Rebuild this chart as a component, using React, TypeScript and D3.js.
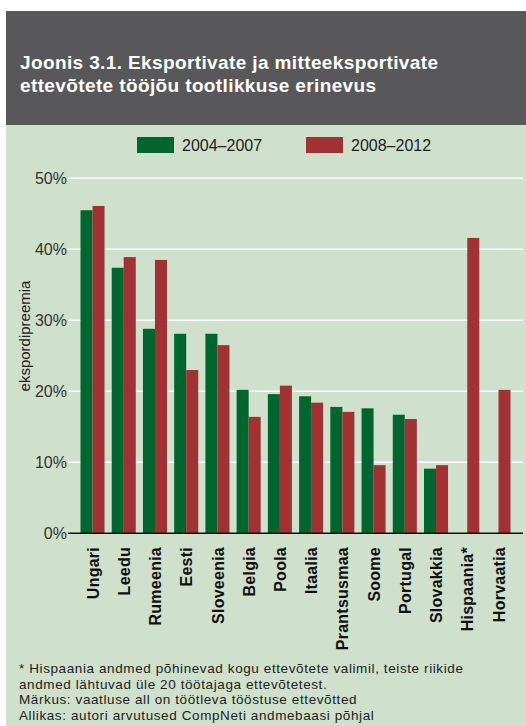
import * as d3 from 'd3';

const countries = [
  'Ungari', 'Leedu', 'Rumeenia', 'Eesti', 'Sloveenia', 'Belgia', 'Poola',
  'Itaalia', 'Prantsusmaa', 'Soome', 'Portugal', 'Slovakkia', 'Hispaania*', 'Horvaatia',
];
const period1 = [45.5, 37.4, 28.8, 28.1, 28.1, 20.2, 19.6, 19.3, 17.8, 17.6, 16.7, 9.1, null, null];
const period2 = [46.1, 38.9, 38.5, 23.0, 26.5, 16.4, 20.8, 18.4, 17.1, 9.6, 16.1, 9.6, 41.6, 20.2];
const seriesNames = ['2004–2007', '2008–2012'];
const yTicks = [0, 10, 20, 30, 40, 50];
const titleLines = [
  'Joonis 3.1. Eksportivate ja mitteeksportivate',
  'ettevõtete tööjõu tootlikkuse erinevus',
];
const notes = [
  '* Hispaania andmed põhinevad kogu ettevõtete valimil, teiste riikide',
  'andmed lähtuvad üle 20 töötajaga ettevõtetest.',
  'Märkus: vaatluse all on töötleva tööstuse ettevõtted',
  'Allikas: autori arvutused CompNeti andmebaasi põhjal',
];

const W = 526;
const H = 726;
const font = '"Liberation Sans", Arial, sans-serif';
const colors = ['#00652e', '#a03234'];

export default function App() {
  const x = d3.scaleBand<string>()
    .domain(countries)
    .range([68, 523])
    .paddingInner(0.23)
    .paddingOuter(0.4);
  const inner = d3.scaleBand<number>()
    .domain([0, 1])
    .range([0, x.bandwidth()]);
  const y = d3.scaleLinear().domain([0, 50]).range([533.3, 178.3]);

  const series = [period1, period2];

  return (
    <svg width={W} height={H} style={{ position: 'absolute', left: 0, top: 0 }} fontFamily={font}>
      <rect x={0} y={0} width={W} height={H} fill="#fff" />
      <rect x={6} y={11} width={W - 6} height={114} fill="#58585a" />
      <rect x={6} y={125} width={W - 6} height={H - 125} fill="#cfe0cc" />

      {titleLines.map((t, i) => (
        <text key={t} x={20} y={69 + i * 22.5} fill="#fff" fontSize={19} fontWeight="bold" letterSpacing={0.38}>{t}</text>
      ))}

      {/* legend */}
      {seriesNames.map((s, i) => (
        <g key={s} transform={`translate(${137 + i * 169},137)`}>
          <rect width={37} height={16} fill={colors[i]} />
          <text x={45} y={14} fontSize={16} fill="#222">{s}</text>
        </g>
      ))}

      {/* grid */}
      {yTicks.map(t => (
        <g key={t}>
          {t > 0 && (
            <line x1={68} x2={523} y1={y(t)} y2={y(t)} stroke="#fff" strokeWidth={1.5} />
          )}
          <text x={67} y={y(t)} dy="0.36em" textAnchor="end" fontSize={16} fill="#333">{t}%</text>
        </g>
      ))}

      {/* bars */}
      {countries.map((c, i) => (
        <g key={c} transform={`translate(${x(c)},0)`}>
          {series.map((vals, k) => {
            const v = vals[i];
            if (v == null) return null;
            return (
              <rect
                key={k}
                x={inner(k)}
                y={y(v)}
                width={inner.bandwidth()}
                height={y(0) - y(v)}
                fill={colors[k]}
              />
            );
          })}
        </g>
      ))}

      <line x1={68} x2={523} y1={y(0)} y2={y(0)} stroke="#111" strokeWidth={1.5} />

      {/* category labels */}
      {countries.map(c => (
        <text
          key={c}
          transform={`translate(${(x(c) ?? 0) + x.bandwidth() / 2},547) rotate(-90)`}
          dy="0.38em"
          textAnchor="end"
          fontSize={16}
          fontWeight="bold"
          letterSpacing={0.25}
          fill="#111"
        >
          {c}
        </text>
      ))}

      <text transform="translate(30,336) rotate(-90)" textAnchor="middle" fontSize={15} fill="#222">
        ekspordipreemia
      </text>

      {/* footnotes: tight leading as in the original */}
      {notes.map((n, i) => (
        <text key={n} x={19} y={673 + i * 15.5} fontSize={13.5} letterSpacing={0.6} fill="#222">{n}</text>
      ))}
    </svg>
  );
}
